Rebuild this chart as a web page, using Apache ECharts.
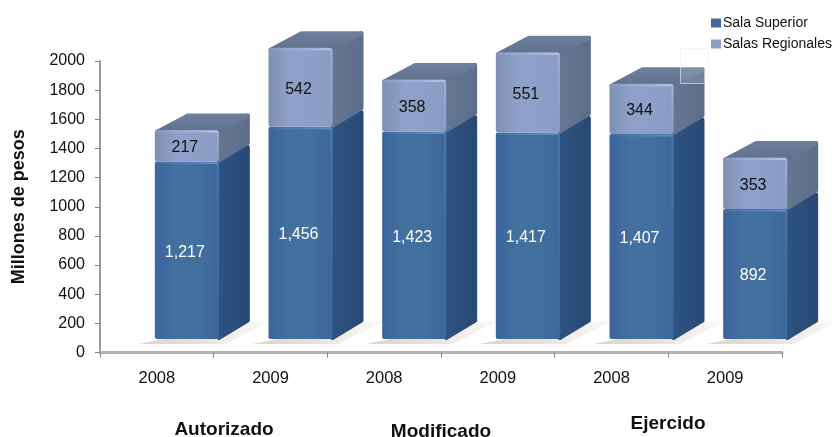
<!DOCTYPE html>
<html><head><meta charset="utf-8">
<style>html,body{margin:0;padding:0;background:#fff}#c{width:832px;height:437px}</style>
<script src="https://cdn.jsdelivr.net/npm/echarts@6/dist/echarts.min.js"></script>
</head><body><div id="c"></div>
<script>
const years = ['2008','2009','2008','2009','2008','2009'];
const salaSuperior = [1217,1456,1423,1417,1407,892];
const salasRegionales = [217,542,358,551,344,353];
const groupLabels = ['Autorizado','Modificado','Ejercido'];
const yTitle = 'Millones de pesos';

const FONT = '"Liberation Sans", Arial, sans-serif';
const W = 64, DX = 31, DY = 16.5, SHIFT = 30, LIFT = 13.5, R = 2;
const lg = (stops, x2, y2) => ({type:'linear',x:0,y:0,x2,y2,colorStops:stops.map((c,i)=>({offset:i/(stops.length-1),color:c}))});
const poly = (points, fill, lw) => ({type:'polygon',shape:{points},style:{fill,stroke:fill,lineWidth:lw==null?2*R:lw,lineJoin:'round'}});
const edge = (x1,y1,x2,y2,c0,c1) => ({type:'line',shape:{x1,y1,x2,y2},style:{lineWidth:2,lineCap:'round',
  stroke:{type:'linear',global:true,x:x1,y:y1,x2,y2,colorStops:[{offset:0,color:c0},{offset:1,color:c1}]}}});

function makeRender(isTop){
  return function(params, api){
    const i = api.value(0), a = api.value(1), b = api.value(2);
    const cx = api.coord([i,0])[0] + SHIFT;
    const yb = api.coord([i,a])[1] - LIFT, yt = api.coord([i,b])[1] - LIFT;
    const l = cx - W/2, r = cx + W/2;
    const front = [[l+R,yb-R],[r-R,yb-R],[r-R,yt+R],[l+R,yt+R]];
    const side = [[r,yb-1],[r+DX-R,yb-DY-R],[r+DX-R,yt-DY+R],[r,yt]];
    const val = b - a;
    const children = [];
    if(!isTop){
      children.push({type:'polygon',shape:{points:[[l-16,yb+5],[r+6,yb+5],[r+DX+20,yb-DY-1],[r+DX,yb-DY-1]]},
        style:{fill:lg(['rgba(208,197,184,0.75)','rgba(222,214,204,0.7)','rgba(240,236,230,0.35)'],1,0)}});
      children.push(poly(side, lg(['#2e5482','#274873'],1,0)));
      children.push(poly(front, lg(['#3b659c','#44709f','#42709f','#3d6699'],1,0)));
      children.push(edge(l+2,yt+1.5,r-2,yt+1.5,'rgba(90,135,190,0.2)','rgba(105,150,205,0.85)'));
      children.push(edge(r-1,yt+2,r-1,yb-6,'rgba(90,135,190,0.55)','rgba(70,115,170,0.1)'));
    } else {
      children.push(poly(side, lg(['#657792','#5b6d88'],1,0)));
      children.push(poly([[l+R,yt+R],[r-R,yt+R],[r+DX-R,yt-DY+R],[l+DX+R,yt-DY+R]], lg(['#6f809c','#5d6f8c'],0,1)));
      children.push(poly(front, lg(['#7f90b4','#8fa1c8','#8da0c7','#8a9cc5'],1,0)));
      children.push(edge(l+2,yt+1.5,r-2,yt+1.5,'rgba(150,170,210,0.35)','rgba(185,200,230,0.95)'));
      children.push(edge(r-1,yt+2,r-1,yb-3,'rgba(165,182,220,0.8)','rgba(150,170,210,0.2)'));
    }
    children.push({type:'text',z2:5,style:{
      x:cx-2,y:(yb+yt)/2+2,text:isTop?String(val):val.toLocaleString('en-US'),
      fill:isTop?'#111':'#fff',font:'16px '+FONT,align:'center',verticalAlign:'middle'}});
    return {type:'group',children};
  };
}
function rows(bottom, values){ return values.map((v,i)=>[i,bottom[i],bottom[i]+v]); }

const chart = echarts.init(document.getElementById('c'),null,{renderer:'canvas'});
chart.setOption({
  animation:false,
  backgroundColor:'#ffffff',
  textStyle:{fontFamily:FONT},
  grid:{left:100,right:50,top:61,bottom:84.5},
  legend:{orient:'vertical',left:706,top:11,itemWidth:10,itemHeight:9,itemGap:7,icon:'rect',
    selectedMode:false,textStyle:{fontSize:14,color:'#111',fontFamily:FONT,padding:[0,0,0,-3]},
    data:['Sala Superior','Salas Regionales']},
  xAxis:{type:'category',data:years,
    axisLine:{lineStyle:{color:'#b8afaa',width:3}},
    axisTick:{show:true,alignWithLabel:false,length:5,lineStyle:{color:'#8a8280'}},
    axisLabel:{fontSize:16.5,color:'#111',margin:17,fontFamily:FONT},splitLine:{show:false}},
  yAxis:{type:'value',min:0,max:2000,interval:200,
    name:yTitle,nameLocation:'middle',nameGap:72,
    nameTextStyle:{fontSize:18,fontWeight:'bold',color:'#111',fontFamily:FONT},
    axisLine:{show:true,lineStyle:{color:'#a39a96',width:2}},
    axisTick:{show:true,length:5,lineStyle:{color:'#8a8280'}},
    axisLabel:{fontSize:16,color:'#111',margin:15,fontFamily:FONT,formatter:v=>String(v)},splitLine:{show:false}},
  series:[
    {type:'custom',name:'Sala Superior',clip:false,itemStyle:{color:'#44699c'},
      renderItem:makeRender(false),encode:{x:0,y:[1,2]},data:rows(salaSuperior.map(()=>0),salaSuperior),z:2},
    {type:'custom',name:'Salas Regionales',clip:false,itemStyle:{color:'#8c9fc6'},
      renderItem:makeRender(true),encode:{x:0,y:[1,2]},data:rows(salaSuperior,salasRegionales),z:3}
  ],
  graphic:[
    {type:'rect',z:10,shape:{x:680.5,y:48.5,width:28,height:35},
      style:{fill:'rgba(255,255,255,0.14)',stroke:'rgba(235,238,243,0.6)',lineWidth:1}},
    {type:'text',z:10,style:{x:224,y:430,text:groupLabels[0],font:'bold 19px '+FONT,fill:'#111',align:'center',verticalAlign:'middle'}},
    {type:'text',z:10,style:{x:441,y:432,text:groupLabels[1],font:'bold 19px '+FONT,fill:'#111',align:'center',verticalAlign:'middle'}},
    {type:'text',z:10,style:{x:668,y:424,text:groupLabels[2],font:'bold 19px '+FONT,fill:'#111',align:'center',verticalAlign:'middle'}}
  ]
});
</script></body></html>
